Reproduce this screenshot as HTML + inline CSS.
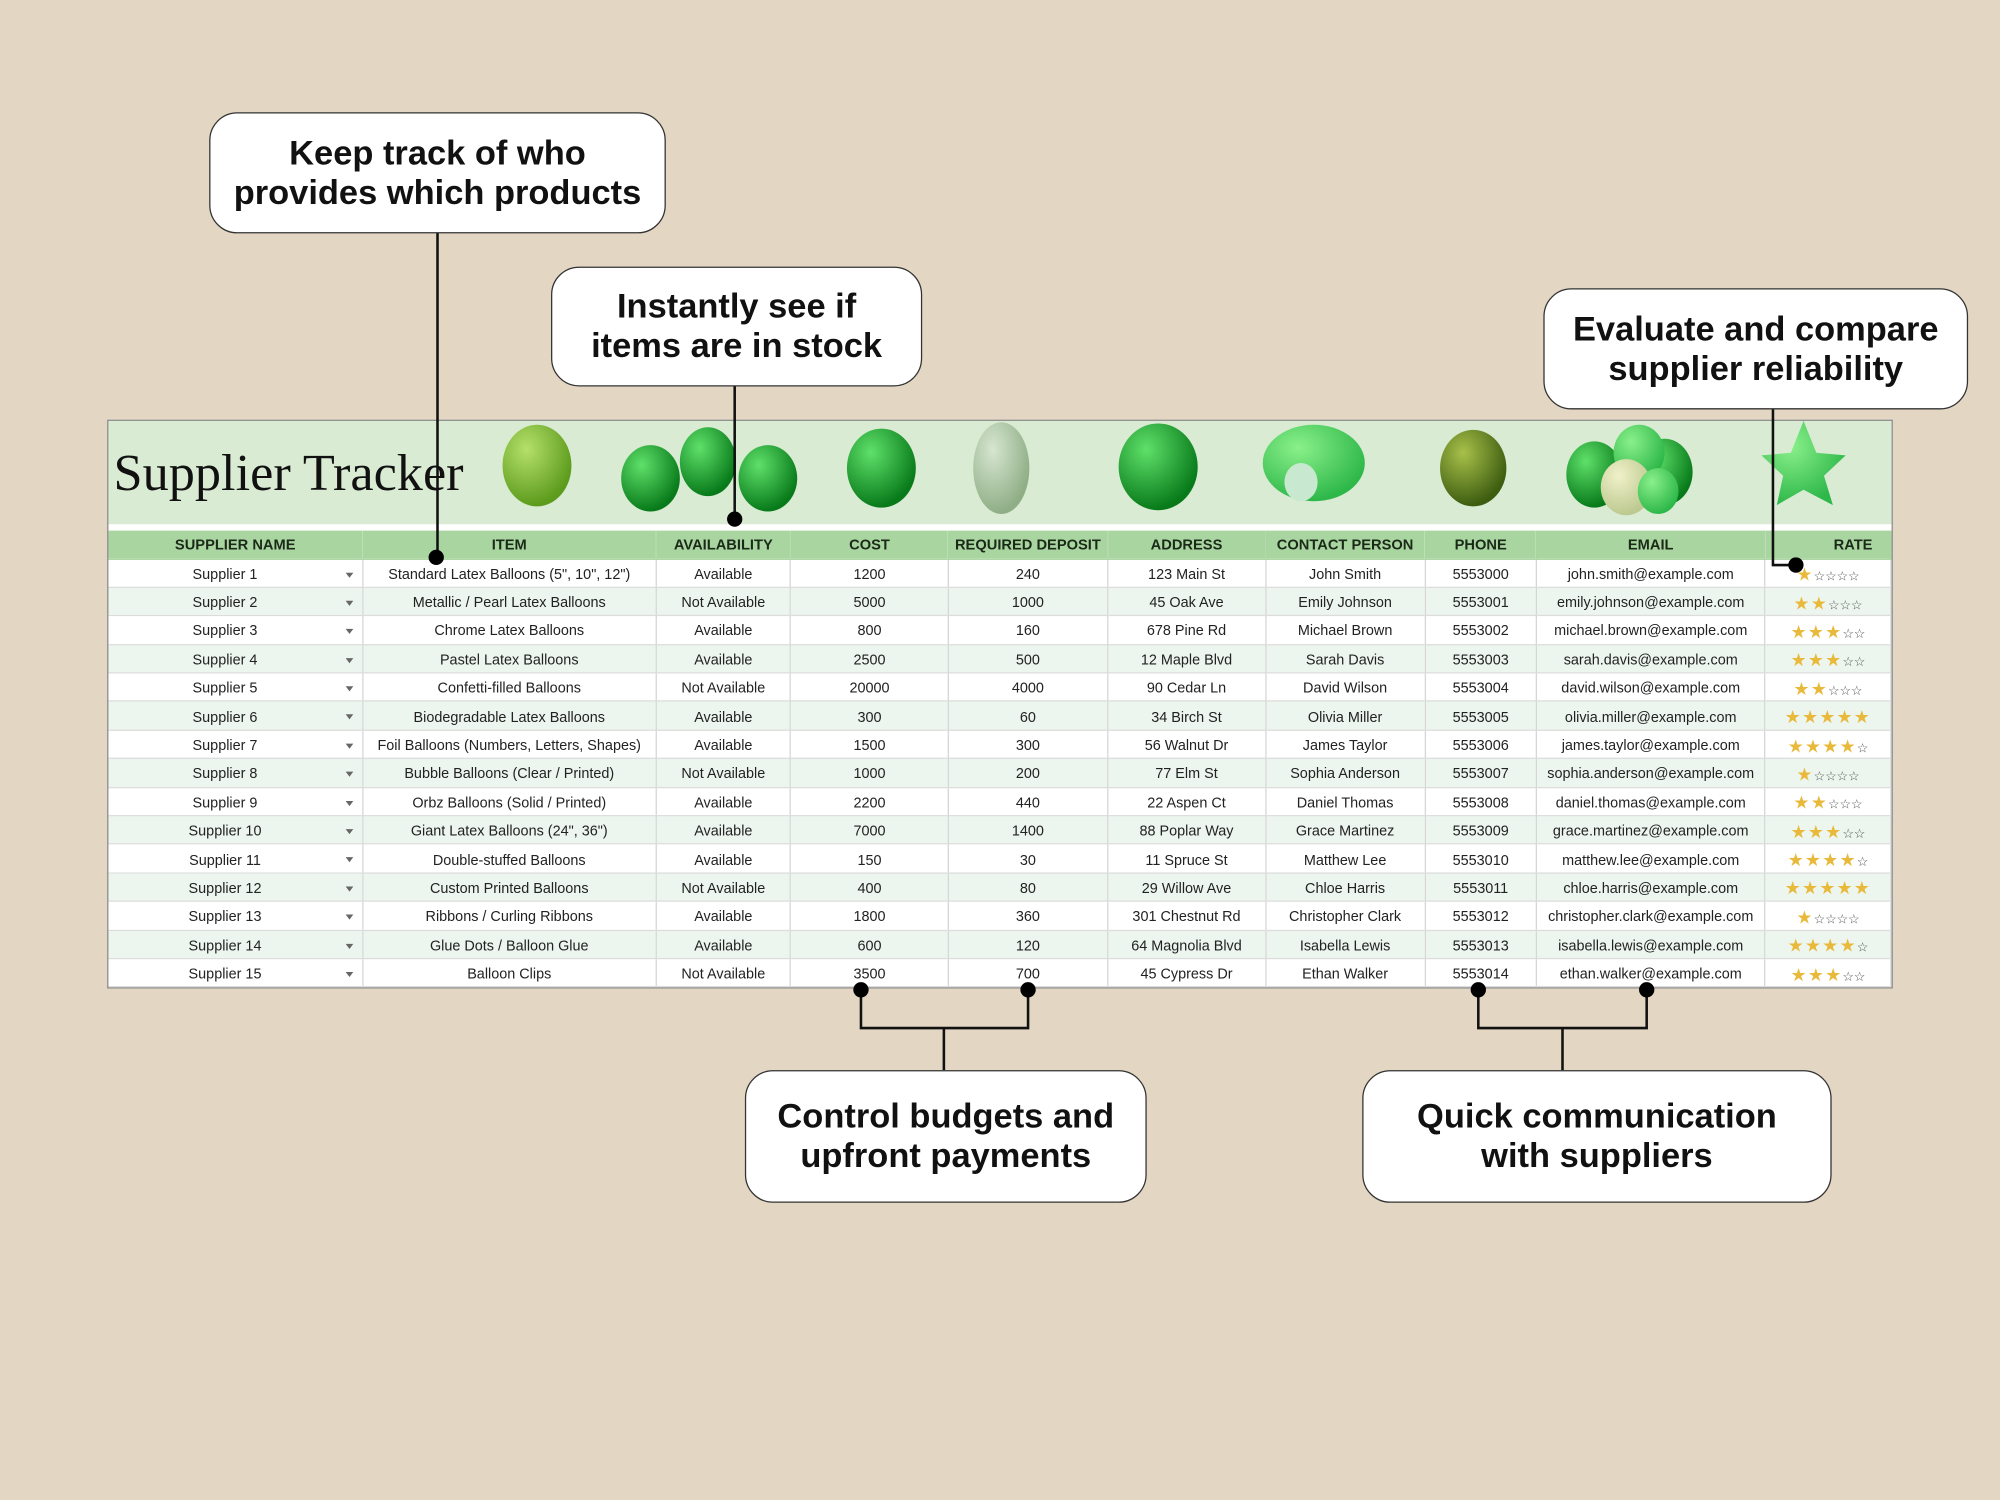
<!DOCTYPE html>
<html><head><meta charset="utf-8"><style>
html,body{margin:0;padding:0;width:2000px;height:1500px;overflow:hidden;background:#e3d6c2}
#w{position:absolute;left:0;top:0;width:1568px;height:1176px;transform:scale(1.27551);transform-origin:0 0;font-family:"Liberation Sans",sans-serif}
.co{position:absolute;background:#fff;border:1px solid #333;border-radius:22px;display:flex;align-items:center;justify-content:center;text-align:center;font-weight:bold;font-size:27px;line-height:31px;color:#111}
#tbl{position:absolute;left:84px;top:329px;width:1400px;height:446px;border:1px solid #888;background:#fff;box-sizing:border-box;overflow:hidden}
#ban{position:absolute;left:0;top:0;width:100%;height:81px;background:#d9ebd3}
#title{position:absolute;left:4px;top:16px;font-family:"Liberation Serif",serif;font-size:41px;color:#111}
table{position:absolute;left:0;top:86px;border-collapse:collapse;font-size:11.3px;color:#222;table-layout:fixed}
td,th{height:22.4px;padding:3px 0 0 0;text-align:center;border-right:1px solid #d6d6d6;border-bottom:1px solid #dcdcdc;white-space:nowrap;overflow:hidden;box-sizing:border-box}
th{background:#a9d5a0;font-size:11.5px;font-weight:bold;height:22px;border-color:#a9d5a0;color:#1b2a18;padding-top:2px}
tr:nth-child(odd) td{background:#edf6ee}
td.s{position:relative;padding-right:16px}
td.s:after{content:"";position:absolute;right:7px;top:10px;border-left:3.5px solid transparent;border-right:3.5px solid transparent;border-top:4px solid #666}
.st{color:#e8b93a;font-size:14px;letter-spacing:1px}.se{color:#555;font-size:10px}
svg{position:absolute;left:0;top:0}
</style></head><body><div id="w">
<div id="tbl"><div id="ban"><div id="title">Supplier Tracker</div></div>
<table>
<colgroup><col style="width:200px"><col style="width:230px"><col style="width:106px"><col style="width:124px"><col style="width:125px"><col style="width:124px"><col style="width:125px"><col style="width:88px"><col style="width:179px"><col style="width:99px"></colgroup>
<tr><th>SUPPLIER NAME</th><th>ITEM</th><th>AVAILABILITY</th><th>COST</th><th>REQUIRED DEPOSIT</th><th>ADDRESS</th><th>CONTACT PERSON</th><th>PHONE</th><th>EMAIL</th><th style="text-align:right;padding-right:14px">RATE</th></tr>
<tr><td class="s">Supplier 1</td><td>Standard Latex Balloons (5", 10", 12")</td><td>Available</td><td>1200</td><td>240</td><td>123 Main St</td><td>John Smith</td><td>5553000</td><td>john.smith@example.com</td><td><span class="st">★</span><span class="se">☆☆☆☆</span></td></tr>
<tr><td class="s">Supplier 2</td><td>Metallic / Pearl Latex Balloons</td><td>Not Available</td><td>5000</td><td>1000</td><td>45 Oak Ave</td><td>Emily Johnson</td><td>5553001</td><td>emily.johnson@example.com</td><td><span class="st">★★</span><span class="se">☆☆☆</span></td></tr>
<tr><td class="s">Supplier 3</td><td>Chrome Latex Balloons</td><td>Available</td><td>800</td><td>160</td><td>678 Pine Rd</td><td>Michael Brown</td><td>5553002</td><td>michael.brown@example.com</td><td><span class="st">★★★</span><span class="se">☆☆</span></td></tr>
<tr><td class="s">Supplier 4</td><td>Pastel Latex Balloons</td><td>Available</td><td>2500</td><td>500</td><td>12 Maple Blvd</td><td>Sarah Davis</td><td>5553003</td><td>sarah.davis@example.com</td><td><span class="st">★★★</span><span class="se">☆☆</span></td></tr>
<tr><td class="s">Supplier 5</td><td>Confetti-filled Balloons</td><td>Not Available</td><td>20000</td><td>4000</td><td>90 Cedar Ln</td><td>David Wilson</td><td>5553004</td><td>david.wilson@example.com</td><td><span class="st">★★</span><span class="se">☆☆☆</span></td></tr>
<tr><td class="s">Supplier 6</td><td>Biodegradable Latex Balloons</td><td>Available</td><td>300</td><td>60</td><td>34 Birch St</td><td>Olivia Miller</td><td>5553005</td><td>olivia.miller@example.com</td><td><span class="st">★★★★★</span></td></tr>
<tr><td class="s">Supplier 7</td><td>Foil Balloons (Numbers, Letters, Shapes)</td><td>Available</td><td>1500</td><td>300</td><td>56 Walnut Dr</td><td>James Taylor</td><td>5553006</td><td>james.taylor@example.com</td><td><span class="st">★★★★</span><span class="se">☆</span></td></tr>
<tr><td class="s">Supplier 8</td><td>Bubble Balloons (Clear / Printed)</td><td>Not Available</td><td>1000</td><td>200</td><td>77 Elm St</td><td>Sophia Anderson</td><td>5553007</td><td>sophia.anderson@example.com</td><td><span class="st">★</span><span class="se">☆☆☆☆</span></td></tr>
<tr><td class="s">Supplier 9</td><td>Orbz Balloons (Solid / Printed)</td><td>Available</td><td>2200</td><td>440</td><td>22 Aspen Ct</td><td>Daniel Thomas</td><td>5553008</td><td>daniel.thomas@example.com</td><td><span class="st">★★</span><span class="se">☆☆☆</span></td></tr>
<tr><td class="s">Supplier 10</td><td>Giant Latex Balloons (24", 36")</td><td>Available</td><td>7000</td><td>1400</td><td>88 Poplar Way</td><td>Grace Martinez</td><td>5553009</td><td>grace.martinez@example.com</td><td><span class="st">★★★</span><span class="se">☆☆</span></td></tr>
<tr><td class="s">Supplier 11</td><td>Double-stuffed Balloons</td><td>Available</td><td>150</td><td>30</td><td>11 Spruce St</td><td>Matthew Lee</td><td>5553010</td><td>matthew.lee@example.com</td><td><span class="st">★★★★</span><span class="se">☆</span></td></tr>
<tr><td class="s">Supplier 12</td><td>Custom Printed Balloons</td><td>Not Available</td><td>400</td><td>80</td><td>29 Willow Ave</td><td>Chloe Harris</td><td>5553011</td><td>chloe.harris@example.com</td><td><span class="st">★★★★★</span></td></tr>
<tr><td class="s">Supplier 13</td><td>Ribbons / Curling Ribbons</td><td>Available</td><td>1800</td><td>360</td><td>301 Chestnut Rd</td><td>Christopher Clark</td><td>5553012</td><td>christopher.clark@example.com</td><td><span class="st">★</span><span class="se">☆☆☆☆</span></td></tr>
<tr><td class="s">Supplier 14</td><td>Glue Dots / Balloon Glue</td><td>Available</td><td>600</td><td>120</td><td>64 Magnolia Blvd</td><td>Isabella Lewis</td><td>5553013</td><td>isabella.lewis@example.com</td><td><span class="st">★★★★</span><span class="se">☆</span></td></tr>
<tr><td class="s">Supplier 15</td><td>Balloon Clips</td><td>Not Available</td><td>3500</td><td>700</td><td>45 Cypress Dr</td><td>Ethan Walker</td><td>5553014</td><td>ethan.walker@example.com</td><td><span class="st">★★★</span><span class="se">☆☆</span></td></tr>
</table></div>
<svg width="1568" height="1176">
<defs>
<radialGradient id="g1" cx="35%" cy="30%" r="70%"><stop offset="0" stop-color="#b5e06a"/><stop offset="1" stop-color="#5c9b1c"/></radialGradient>
<radialGradient id="g2" cx="35%" cy="30%" r="70%"><stop offset="0" stop-color="#5fe06a"/><stop offset="1" stop-color="#087a1a"/></radialGradient>
<radialGradient id="g3" cx="35%" cy="30%" r="70%"><stop offset="0" stop-color="#d6e6d0"/><stop offset="1" stop-color="#8fae86"/></radialGradient>
<radialGradient id="g4" cx="35%" cy="30%" r="70%"><stop offset="0" stop-color="#a8c04a"/><stop offset="1" stop-color="#3d5d10"/></radialGradient>
<radialGradient id="g5" cx="35%" cy="30%" r="70%"><stop offset="0" stop-color="#8af08a"/><stop offset="1" stop-color="#2fb84a"/></radialGradient>
<radialGradient id="g6" cx="35%" cy="30%" r="70%"><stop offset="0" stop-color="#f0f0c8"/><stop offset="1" stop-color="#bcc990"/></radialGradient>
</defs>
<ellipse cx="421" cy="365" rx="27" ry="32" fill="url(#g1)"/>
<ellipse cx="510" cy="375" rx="23" ry="26" fill="url(#g2)"/><ellipse cx="555" cy="362" rx="22" ry="27" fill="url(#g2)"/><ellipse cx="602" cy="375" rx="23" ry="26" fill="url(#g2)"/>
<ellipse cx="691" cy="367" rx="27" ry="31" fill="url(#g2)"/>
<ellipse cx="785" cy="367" rx="22" ry="36" fill="url(#g3)"/>
<ellipse cx="908" cy="366" rx="31" ry="34" fill="url(#g2)"/>
<ellipse cx="1030" cy="363" rx="40" ry="30" fill="url(#g5)"/><ellipse cx="1020" cy="378" rx="13" ry="15" fill="#c8e8d0"/>
<ellipse cx="1155" cy="367" rx="26" ry="30" fill="url(#g4)"/>
<ellipse cx="1250" cy="372" rx="22" ry="26" fill="url(#g2)"/><ellipse cx="1305" cy="370" rx="22" ry="26" fill="url(#g2)"/><ellipse cx="1285" cy="355" rx="20" ry="22" fill="url(#g5)"/><ellipse cx="1275" cy="382" rx="20" ry="22" fill="url(#g6)"/><ellipse cx="1300" cy="385" rx="16" ry="18" fill="url(#g5)"/>
<polygon points="1414,330 1424,355 1447,357 1430,373 1437,396 1414,384 1393,396 1398,373 1381,357 1404,355" fill="url(#g5)"/>
<g stroke="#111" stroke-width="2" fill="none">
<line x1="343" y1="181" x2="343" y2="437"/>
<line x1="576" y1="301" x2="576" y2="407"/>
<polyline points="1390,319 1390,443 1408,443"/>
<polyline points="675,776 675,806 806,806 806,776"/><line x1="740" y1="806" x2="740" y2="839"/>
<polyline points="1159,776 1159,806 1291,806 1291,776"/><line x1="1225" y1="806" x2="1225" y2="839"/>
</g>
<g fill="#000"><circle cx="342" cy="437" r="6"/><circle cx="576" cy="407" r="6"/><circle cx="1408" cy="443" r="6"/><circle cx="675" cy="776" r="6"/><circle cx="806" cy="776" r="6"/><circle cx="1159" cy="776" r="6"/><circle cx="1291" cy="776" r="6"/></g>
</svg>
<div class="co" style="left:164px;top:88px;width:356px;height:93px">Keep track of who<br>provides which products</div>
<div class="co" style="left:432px;top:209px;width:289px;height:92px">Instantly see if<br>items are in stock</div>
<div class="co" style="left:1210px;top:226px;width:331px;height:93px">Evaluate and compare<br>supplier reliability</div>
<div class="co" style="left:584px;top:839px;width:313px;height:102px">Control budgets and<br>upfront payments</div>
<div class="co" style="left:1068px;top:839px;width:366px;height:102px">Quick communication<br>with suppliers</div>
</div></body></html>
